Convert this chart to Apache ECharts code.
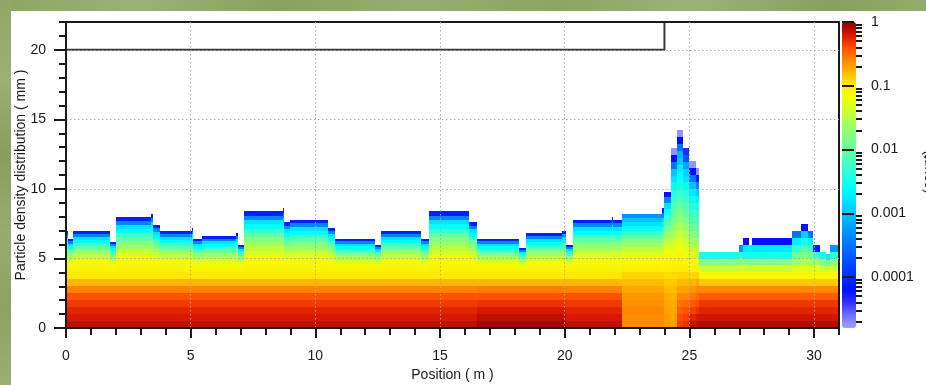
<!DOCTYPE html>
<html>
<head>
<meta charset="utf-8">
<script src="https://cdn.jsdelivr.net/npm/echarts@6/dist/echarts.min.js"></script>
<style>
  html, body { margin: 0; padding: 0; background: #ffffff; }
  #chart { width: 926px; height: 385px; }
</style>
</head>
<body>
<div id="chart"></div>
<script>
// ---------------------------------------------------------------
// Particle density profile along the channel.
// Each column spans [colStart, colEnd] metres and is filled up to colTop mm.
// Below 4 mm the density is stored in 0.5 mm rows (lower profile);
// from 4 mm up to the column top the upper profile rows are spread evenly.
// All densities are log10 values.
// ---------------------------------------------------------------
const lowMain  = [-0.13, -0.20, -0.25, -0.33, -0.42, -0.58, -0.78, -0.98];
const lowDark  = [-0.06, -0.13, -0.20, -0.30, -0.42, -0.56, -0.78, -0.98];
const lowPeak  = [-0.60, -0.62, -0.60, -0.63, -0.66, -0.72, -0.80, -0.90];
const lowA     = [-0.66, -0.68, -0.70, -0.72, -0.75, -0.80, -0.86, -0.93];
const lowB     = [-0.70, -0.70, -0.72, -0.74, -0.76, -0.80, -0.86, -0.92];
const lowC     = [-0.35, -0.40, -0.46, -0.52, -0.60, -0.70, -0.80, -0.90];
const lowD     = [-0.30, -0.36, -0.42, -0.50, -0.60, -0.70, -0.80, -0.90];
const lowE     = [-0.15, -0.25, -0.35, -0.45, -0.55, -0.65, -0.78, -0.90];
const lowF     = [-0.12, -0.20, -0.30, -0.40, -0.50, -0.60, -0.72, -0.88];
const lowRight = [-0.10, -0.18, -0.25, -0.32, -0.45, -0.60, -0.85, -1.10];

const upMain = [-1.05, -1.08, -1.10, -1.15, -1.35, -1.45, -1.65, -1.80, -2.05, -2.30, -2.60, -2.80, -3.40, -4.10];
const upPeak = [-1.00, -1.05, -1.10, -1.15, -1.30, -1.45, -1.65, -1.80, -2.05, -2.30, -2.60, -2.80, -3.00, -3.30];
const upA = [-1.00, -1.06, -1.12, -1.20, -1.35, -1.50, -1.70, -1.90, -2.10, -2.30, -2.55, -2.80, -3.40, -4.20];
const upB = [-1.00, -1.10, -1.18, -1.28, -1.40, -1.55, -1.70, -1.85, -2.00, -2.15, -2.30, -2.45, -2.60, -2.80, -3.00, -3.50, -4.20, -4.75];
const upC = [-1.00, -1.05, -1.12, -1.20, -1.30, -1.42, -1.55, -1.70, -1.85, -2.00, -2.15, -2.30, -2.45, -2.60, -2.75, -2.95, -3.10, -3.50, -4.20, -4.75];
const upD = [-1.00, -1.10, -1.18, -1.28, -1.40, -1.55, -1.70, -1.85, -2.00, -2.15, -2.30, -2.45, -2.60, -2.80, -2.90, -3.20, -3.70, -4.35];
const upE = [-1.05, -1.15, -1.30, -1.45, -1.60, -1.80, -1.95, -2.10, -2.25, -2.40, -2.55, -2.75, -3.00, -3.50, -4.20, -4.75];
const upF = [-1.05, -1.20, -1.35, -1.50, -1.70, -1.90, -2.05, -2.20, -2.35, -2.50, -2.70, -2.95, -3.40, -4.10, -4.75];
const upR1 = [-1.40, -1.80, -2.50];
const upR2 = [-1.35, -1.75, -2.40, -3.30];
const upR3 = [-1.40, -1.80, -2.50, -2.75, -4.20];
const upR4 = [-1.40, -1.80, -2.50, -2.70];
const upR5 = [-1.30, -1.60, -1.90, -2.30, -2.70, -3.50];
const upR6 = [-1.30, -1.55, -1.80, -2.10, -2.50, -2.90, -4.20];
const upR7 = [-1.30, -1.70, -2.40, -4.10];
const upR8 = [-1.40, -1.90, -2.70];

const colStart = [0.00, 0.10, 0.30, 1.75, 2.00, 3.40, 3.50, 3.75, 5.05, 5.10, 5.45, 6.80, 6.90, 7.15, 8.70, 8.75,
                  9.00, 10.50, 10.80, 12.40, 12.65, 14.25, 14.55, 16.15, 16.50, 18.15, 18.45, 19.90, 20.05, 20.35,
                  21.90, 21.95, 22.30, 23.90, 24.00, 24.27, 24.50, 24.75, 25.00, 25.25, 25.40, 27.00, 27.15, 27.40,
                  27.50, 29.13, 29.47, 29.76, 29.97, 30.24, 30.47, 30.64];
const colEnd   = [0.10, 0.30, 1.75, 2.00, 3.40, 3.50, 3.75, 5.05, 5.10, 5.45, 6.80, 6.90, 7.15, 8.70, 8.75, 9.00,
                  10.50, 10.80, 12.40, 12.65, 14.25, 14.55, 16.15, 16.50, 18.15, 18.45, 19.90, 20.05, 20.35, 21.90,
                  21.95, 22.30, 23.90, 24.00, 24.27, 24.50, 24.75, 25.00, 25.25, 25.40, 27.00, 27.15, 27.40, 27.50,
                  29.13, 29.47, 29.76, 29.97, 30.24, 30.47, 30.64, 31.00];
const colTop   = [6.95, 6.40, 7.00, 6.20, 8.00, 8.20, 7.40, 7.00, 7.20, 6.40, 6.60, 6.80, 6.00, 8.40, 8.60, 7.60,
                  7.80, 7.20, 6.40, 6.00, 7.00, 6.40, 8.40, 7.60, 6.40, 5.75, 6.80, 7.00, 6.00, 7.80,
                  8.00, 7.80, 8.20, 8.60, 9.80, 12.95, 14.27, 12.95, 12.00, 11.50, 5.45, 6.00, 6.47, 5.95,
                  6.47, 6.95, 7.50, 6.95, 6.00, 5.45, 5.30, 5.95];
const colLower = [lowMain, lowMain, lowMain, lowMain, lowMain, lowMain, lowMain, lowMain, lowMain, lowMain, lowMain,
                  lowMain, lowMain, lowMain, lowMain, lowMain, lowMain, lowMain, lowMain, lowMain, lowMain, lowMain,
                  lowMain, lowMain, lowDark, lowDark, lowDark, lowDark, lowMain, lowMain, lowMain, lowMain,
                  lowPeak, lowPeak, lowA, lowB, lowC, lowD, lowE, lowF,
                  lowRight, lowRight, lowRight, lowRight, lowRight, lowRight, lowRight, lowRight, lowRight,
                  lowRight, lowRight, lowRight];
const colUpper = [upMain, upMain, upMain, upMain, upMain, upMain, upMain, upMain, upMain, upMain, upMain,
                  upMain, upMain, upMain, upMain, upMain, upMain, upMain, upMain, upMain, upMain, upMain,
                  upMain, upMain, upMain, upMain, upMain, upMain, upMain, upMain, upMain, upMain,
                  upPeak, upMain, upA, upB, upC, upD, upE, upF,
                  upR1, upR2, upR3, upR4, upR3, upR5, upR6, upR5, upR7, upR1, upR8, upR2];

// Ceiling outline drawn over the field
const wallX = [0, 24, 24];
const wallY = [20, 20, 22];

// Axis ticks and colour-bar labels
const xMajorTicks = [0, 5, 10, 15, 20, 25, 30];
const yMajorTicks = [0, 5, 10, 15, 20];
const barTickValues = [1, 0.1, 0.01, 0.001, 0.0001];
const barTickLabels = ['1', '0.1', '0.01', '0.001', '0.0001'];
const barDecades = [0.1, 0.01, 0.001, 0.0001, 0.00001];
const barMin = -4.8, barMax = 0;

// Jet-like colour scale, from the lowest log density to the highest
const densityColors = [
  '#a0a0ff', '#7070ff', '#3030ff', '#0010ff', '#0030ff', '#0048ff', '#0064ff', '#0084ff', '#00a4ff',
  '#00c4ff', '#00e4ff', '#00fff8', '#28ffe0', '#48ffc0', '#64ffa0', '#84ff84', '#a4ff5c', '#ccff30',
  '#f0ff08', '#ffee00', '#ffbb00', '#ff8800', '#ff4c00', '#d81800', '#8c0000'
];

// ---- build the cell table: [x0, x1, y0, y1, log10 density] ----
const LOW_ROW = 0.5;
const cells = [];
colStart.forEach((x0, i) => {
  const x1 = colEnd[i];
  const low = colLower[i];
  const split = low.length * LOW_ROW;
  low.forEach((v, k) => cells.push([x0, x1, k * LOW_ROW, (k + 1) * LOW_ROW, v]));
  const up = colUpper[i];
  const h = (colTop[i] - split) / up.length;
  up.forEach((v, k) => cells.push([x0, x1, split + k * h, split + (k + 1) * h, v]));
});

const barMinor = [];
barDecades.forEach(d => {
  for (let m = 2; m <= 9; m++) {
    const lv = Math.log10(m * d);
    if (lv > barMin) barMinor.push(lv);
  }
});

const INK = '#1a1a1a';
const FONT = 'Liberation Sans, Arial, sans-serif';

const chart = echarts.init(document.getElementById('chart'), null, { renderer: 'canvas' });

const option = {
  backgroundColor: '#ffffff',
  animation: false,
  textStyle: { fontFamily: FONT, color: INK },
  graphic: [
    {
      type: 'rect', z: 0, silent: true,
      shape: { x: 0, y: 0, width: 926, height: 11 },
      style: {
        fill: new echarts.graphic.LinearGradient(0, 0, 1, 0, [
          { offset: 0, color: '#8ea563' }, { offset: 0.15, color: '#9cb274' },
          { offset: 0.3, color: '#8aa15f' }, { offset: 0.45, color: '#98ae6f' },
          { offset: 0.6, color: '#8da462' }, { offset: 0.75, color: '#9db375' },
          { offset: 0.9, color: '#899f5e' }, { offset: 1, color: '#96ac6c' }
        ])
      }
    },
    {
      type: 'rect', z: 0, silent: true,
      shape: { x: 0, y: 0, width: 11, height: 385 },
      style: {
        fill: new echarts.graphic.LinearGradient(0, 0, 0, 1, [
          { offset: 0, color: '#90a765' }, { offset: 0.2, color: '#9bb173' },
          { offset: 0.4, color: '#879e5c' }, { offset: 0.6, color: '#97ad6e' },
          { offset: 0.8, color: '#8ca361' }, { offset: 1, color: '#9ab072' }
        ])
      }
    },
    {
      type: 'text', z: 5, silent: true,
      x: 929, y: 172, rotation: Math.PI / 2,
      style: { text: '(count)', font: '14px ' + FONT, fill: INK, align: 'center', verticalAlign: 'middle' }
    }
  ],
  grid: [
    { left: 66, top: 22, width: 773, height: 306, show: true, z: 10, outerBoundsMode: 'none', containLabel: false,
      backgroundColor: 'transparent', borderColor: INK, borderWidth: 2 },
    { left: 842, top: 22, width: 14, height: 306, outerBoundsMode: 'none', containLabel: false }
  ],
  xAxis: [
    {
      gridIndex: 0, type: 'value', min: 0, max: 31, interval: 5, position: 'bottom', z: 10,
      name: 'Position ( m )', nameLocation: 'middle', nameGap: 40, nameMoveOverlap: false,
      nameTextStyle: { fontSize: 14, color: INK, fontFamily: FONT },
      axisLine: { show: true, onZero: false, lineStyle: { color: INK, width: 2 } },
      axisTick: { show: true, customValues: xMajorTicks, length: 10, lineStyle: { color: INK, width: 2 } },
      axisLabel: { customValues: xMajorTicks, margin: 21, fontSize: 14, color: INK, fontFamily: FONT },
      splitLine: { show: true, lineStyle: { color: '#a8a8a8', width: 1, type: [1.5, 2.5] } }
    },
    {
      gridIndex: 0, type: 'value', min: 0, max: 31, interval: 1, position: 'bottom', z: 10,
      axisLine: { show: false },
      axisTick: { show: true, length: 7, lineStyle: { color: INK, width: 2 } },
      axisLabel: { show: false }, splitLine: { show: false }
    },
    { gridIndex: 1, type: 'value', min: 0, max: 1, show: false }
  ],
  yAxis: [
    {
      gridIndex: 0, type: 'value', min: 0, max: 22, interval: 5, position: 'left', z: 10,
      name: 'Particle density distribution ( mm )', nameLocation: 'middle', nameGap: 38, nameMoveOverlap: false,
      nameTextStyle: { fontSize: 14, color: INK, fontFamily: FONT },
      axisLine: { show: true, onZero: false, lineStyle: { color: INK, width: 2 } },
      axisTick: { show: true, customValues: yMajorTicks, length: 12, lineStyle: { color: INK, width: 2 } },
      axisLabel: { customValues: yMajorTicks, margin: 20, fontSize: 14, color: INK, fontFamily: FONT },
      splitLine: { show: true, lineStyle: { color: '#a8a8a8', width: 1, type: [1.5, 2.5] } }
    },
    {
      gridIndex: 0, type: 'value', min: 0, max: 22, interval: 1, position: 'left', z: 10,
      axisLine: { show: false },
      axisTick: { show: true, length: 7, lineStyle: { color: INK, width: 2 } },
      axisLabel: { show: false }, splitLine: { show: false }
    },
    {
      gridIndex: 1, type: 'value', min: barMin, max: barMax, position: 'right', z: 10,
      axisLine: { show: false },
      axisTick: { show: true, customValues: barTickValues.map(v => Math.log10(v)), length: 12,
                  lineStyle: { color: INK, width: 2 } },
      axisLabel: {
        customValues: barTickValues.map(v => Math.log10(v)), margin: 15, fontSize: 14, color: INK, fontFamily: FONT,
        formatter: (v) => barTickLabels[barTickValues.findIndex(t => Math.abs(Math.log10(t) - v) < 1e-6)]
      },
      splitLine: { show: false }
    },
    {
      gridIndex: 1, type: 'value', min: barMin, max: barMax, position: 'right', z: 10,
      axisLine: { show: false },
      axisTick: { show: true, customValues: barMinor, length: 6, lineStyle: { color: INK, width: 2 } },
      axisLabel: { show: false }, splitLine: { show: false }
    }
  ],
  visualMap: {
    type: 'continuous', seriesIndex: 0, dimension: 4,
    min: barMin, max: barMax, calculable: false, hoverLink: false, realtime: false,
    left: 842, top: 22, itemWidth: 14, itemHeight: 306, padding: 0,
    orient: 'vertical', inRange: { color: densityColors }, textStyle: { color: INK }
  },
  series: [
    {
      type: 'custom', xAxisIndex: 0, yAxisIndex: 0, z: 2, silent: true, clip: true,
      encode: { x: [0, 1], y: [2, 3] },
      data: cells,
      renderItem(params, api) {
        const a = api.coord([api.value(0), api.value(3)]);
        const b = api.coord([api.value(1), api.value(2)]);
        const x = Math.round(a[0]), y = Math.round(a[1]);
        return {
          type: 'rect',
          shape: { x, y, width: Math.round(b[0]) - x, height: Math.round(b[1]) - y },
          style: { fill: api.visual('color') }
        };
      }
    },
    {
      type: 'line', xAxisIndex: 0, yAxisIndex: 0, z: 6, silent: true,
      symbol: 'none',
      data: wallX.map((x, i) => [x, wallY[i]]),
      lineStyle: { color: '#3a3a3a', width: 2 }
    }
  ]
};

chart.setOption(option);
</script>
</body>
</html>
